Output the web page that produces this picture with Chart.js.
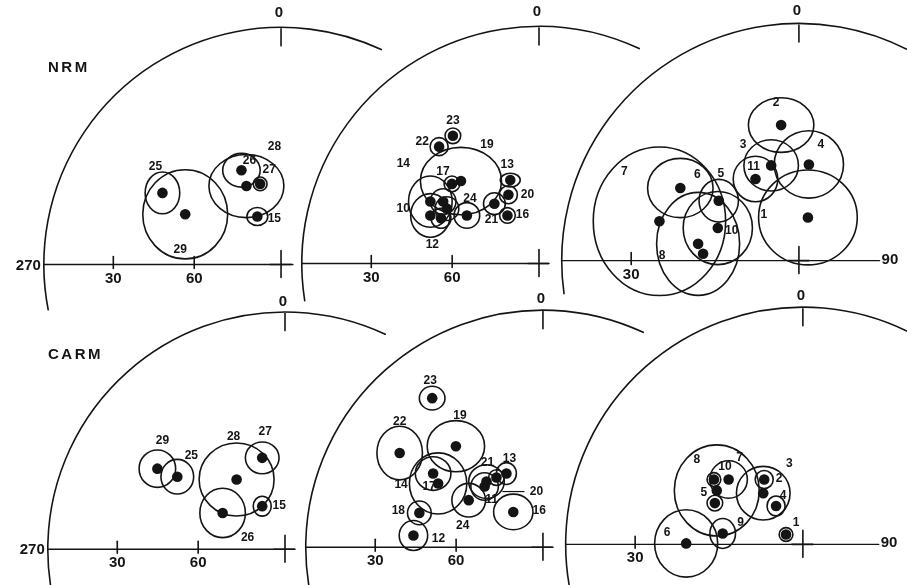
<!DOCTYPE html>
<html>
<head>
<meta charset="utf-8">
<style>html,body{margin:0;padding:0;background:#fff;overflow:hidden}canvas{display:block}</style>
<script src="https://cdn.jsdelivr.net/npm/chart.js@4/dist/chart.umd.min.js"></script>
</head>
<body>
<canvas id="c" width="907" height="585"></canvas>
<script>
// ---- DATA: equal-area projection, units = % of primitive radius (East, North) ----
// NRM, panel A
const nrmA_id    = [25, 29, 28, 26, 27, 15];
const nrmA_east  = [-50.0, -40.4, -14.6, -16.7, -8.8, -10.0];
const nrmA_north = [30.4, 21.3, 33.3, 40.0, 34.2, 20.4];
const nrmA_a95E  = [7.3, 17.9, 15.8, 7.9, 2.9, 4.4];
const nrmA_a95N  = [8.8, 18.8, 13.3, 7.1, 2.9, 3.8];
// NRM, panel B
const nrmB_id    = [23, 22, 19, 17, 14, 10, 11, 12, 18, 24, 21, 13, 20, 16];
const nrmB_east  = [-36.3, -42.1, -32.9, -36.7, -45.8, -40.4, -38.8, -45.8, -41.3, -30.4, -18.8, -12.1, -12.9, -13.3];
const nrmB_north = [54.2, 49.6, 35.0, 33.8, 26.3, 26.3, 23.3, 20.4, 19.2, 20.4, 25.4, 35.4, 29.2, 20.4];
const nrmB_a95E  = [3.3, 3.8, 17.1, 3.3, 9.2, 5.4, 5.0, 8.3, 4.2, 5.4, 4.6, 4.2, 3.8, 3.3];
const nrmB_a95N  = [3.3, 3.8, 14.2, 3.3, 10.8, 5.4, 5.0, 9.2, 4.2, 5.4, 4.6, 2.9, 3.8, 3.3];
// NRM, panel C
const nrmC_id    = [2, 4, 3, 11, 1, 6, 5, 10, 7, 8, 9];
const nrmC_east  = [-7.5, 4.2, -11.7, -18.3, 3.8, -50.0, -33.8, -34.2, -58.8, -42.5, -40.4];
const nrmC_north = [57.5, 40.8, 40.4, 34.6, 18.3, 30.8, 25.4, 13.8, 16.7, 7.1, 2.9];
const nrmC_a95E  = [13.8, 14.6, 11.5, 9.4, 20.8, 13.8, 8.3, 14.6, 27.9, 17.5, null];
const nrmC_a95N  = [11.5, 14.2, 10.8, 9.6, 20.0, 12.5, 9.0, 15.4, 31.3, 21.7, null];
// CARM, panel A
const carmA_id    = [29, 25, 28, 27, 26, 15];
const carmA_east  = [-53.8, -45.4, -20.4, -9.6, -26.3, -9.6];
const carmA_north = [34.2, 30.8, 29.6, 38.8, 15.4, 18.3];
const carmA_a95E  = [7.7, 6.9, 15.8, 7.1, 9.6, 3.8];
const carmA_a95N  = [7.9, 7.3, 15.4, 6.7, 10.4, 4.2];
// CARM, panel B
const carmB_id    = [23, 22, 19, 14, 17, 18, 12, 24, 11, 21, 13, 20, 16];
const carmB_east  = [-46.7, -60.4, -36.7, -44.2, -46.3, -52.1, -54.6, -31.3, -24.6, -23.8, -15.4, -19.6, -12.5];
const carmB_north = [63.3, 40.0, 42.9, 27.1, 31.3, 14.6, 5.0, 20.0, 25.8, 27.9, 31.3, 29.6, 15.0];
const carmB_a95E  = [5.4, 9.6, 12.1, 12.1, 7.5, 5.0, 6.0, 7.1, 5.8, 7.5, 4.2, 3.3, 8.3];
const carmB_a95N  = [5.0, 11.3, 10.8, 12.9, 7.1, 5.0, 6.3, 7.1, 5.8, 7.1, 4.6, 3.3, 7.5];
// CARM, panel C
const carmC_id    = [8, 7, 10, 5, 3, 2, 4, 9, 6, 1];
const carmC_east  = [-36.3, -31.3, -37.5, -37.1, -16.7, -16.3, -11.3, -33.8, -49.2, -7.1];
const carmC_north = [22.9, 27.5, 27.5, 17.5, 21.7, 27.5, 16.3, 4.6, 0.4, 4.2];
const carmC_a95E  = [17.9, 7.9, 2.9, 3.3, 11.3, 3.8, 3.8, 5.4, 13.3, 2.9];
const carmC_a95N  = [19.2, 7.9, 2.9, 3.3, 11.3, 3.8, 4.2, 6.3, 14.2, 2.9];

// tick labels
const inclTicksFull = [30, 60];
const inclTicksShort = [30];
const westLabel = '270';
const eastLabel = '90';
const northLabel = '0';
const rowTitles = ['NRM', 'CARM'];

// ---- LAYOUT (positions / styles only) ----
const W = 907, H = 585, PX_PER_UNIT = 2.4, PRIMITIVE = 100;
const layout = [
  {cx:279, cy:264, arc:[169,295], lineEnd:5,  ticks:inclTicksFull,  west:true,  east:false, nOff:-16,
   off:{25:[-7,-26],29:[-5,35],28:[28,-39],26:[8,-10],27:[9,-14],15:[17,2]}},
  {cx:540, cy:263, arc:[171,295], lineEnd:4,  ticks:inclTicksFull,  west:false, east:false, nOff:-16,
   off:{23:[0,-15],22:[-17,-5],19:[26,-36],17:[-9,-12],14:[-27,-38],10:[-40,7],12:[2,29],24:[3,-17],21:[-3,16],13:[-3,-15],20:[19,0],16:[15,-1]}},
  {cx:803, cy:260, arc:[172,298], lineEnd:34, ticks:inclTicksShort, west:false, east:true, nOff:-14,
   off:{2:[-5,-22],4:[12,-20],3:[-28,-21],11:[-2,-12],1:[-44,-3],6:[17,-13],5:[2,-27],10:[14,3],7:[-35,-50],8:[-36,12]}},
  {cx:283, cy:554, arc:[160,295], lineEnd:4,  ticks:inclTicksFull,  west:true,  east:false, nOff:-12,
   off:{29:[5,-28],25:[14,-21],28:[-3,-43],27:[3,-26],26:[25,25],15:[17,0]}},
  {cx:544, cy:552, arc:[160,295], lineEnd:4,  ticks:inclTicksFull,  west:false, east:false, nOff:-13,
   off:{23:[-2,-17],22:[0,-31],19:[4,-31],14:[-37,1],17:[-4,13],18:[-21,-2],12:[25,3],24:[-6,26],11:[7,13],21:[1,-19],13:[3,-15],20:[40,14],16:[26,-1]},
   leader:{20:[6,14,28,14]}},
  {cx:807, cy:549, arc:[160,300], lineEnd:32, ticks:inclTicksShort, west:false, east:true, nOff:-13,
   off:{8:[-20,-31],7:[11,-22],10:[11,-13],5:[-11,-10],3:[26,-30],2:[15,-1],4:[7,-10],9:[18,-11],6:[-19,-11],1:[10,-12]}}
];
const titlePos = [[48,68],[48,355]];
const INK = '#141414';
const FONT = '"Liberation Sans", Arial, sans-serif';

const panels = [
  {id:nrmA_id, e:nrmA_east, n:nrmA_north, a:nrmA_a95E, b:nrmA_a95N},
  {id:nrmB_id, e:nrmB_east, n:nrmB_north, a:nrmB_a95E, b:nrmB_a95N},
  {id:nrmC_id, e:nrmC_east, n:nrmC_north, a:nrmC_a95E, b:nrmC_a95N},
  {id:carmA_id, e:carmA_east, n:carmA_north, a:carmA_a95E, b:carmA_a95N},
  {id:carmB_id, e:carmB_east, n:carmB_north, a:carmB_a95E, b:carmB_a95N},
  {id:carmC_id, e:carmC_east, n:carmC_north, a:carmC_a95E, b:carmC_a95N}
];

const scales = { x:{display:false}, y:{display:false} };
layout.forEach((L, i) => {
  scales['x'+(i+1)] = {type:'linear', axis:'x', position:'bottom', display:false,
    min:-L.cx/PX_PER_UNIT, max:(W-L.cx)/PX_PER_UNIT};
  scales['y'+(i+1)] = {type:'linear', axis:'y', position:'left', display:false,
    min:(L.cy-H)/PX_PER_UNIT, max:L.cy/PX_PER_UNIT};
});

const datasets = panels.map((p, i) => ({
  type:'scatter',
  data:p.e.map((e, k) => ({x:e, y:p.n[k]})),
  xAxisID:'x'+(i+1), yAxisID:'y'+(i+1),
  pointRadius:5.3, pointHoverRadius:5.3, pointBorderWidth:0,
  backgroundColor:INK, borderColor:INK, clip:false
}));

function equalAreaRadius(incl) {
  return PRIMITIVE * Math.SQRT2 * Math.sin((90 - incl) / 2 * Math.PI / 180);
}

const figurePlugin = {
  id:'figure',
  beforeDraw(chart) {
    const c = chart.ctx; c.save(); c.fillStyle = '#fff'; c.fillRect(0, 0, chart.width, chart.height); c.restore();
  },
  beforeDatasetsDraw(chart) {
    const c = chart.ctx;
    c.save();
    c.strokeStyle = INK; c.fillStyle = INK; c.lineCap = 'round';
    layout.forEach((L, i) => {
      const xs = chart.scales['x'+(i+1)], ys = chart.scales['y'+(i+1)];
      const X = v => xs.getPixelForValue(v), Y = v => ys.getPixelForValue(v);
      const k = Math.abs(X(1) - X(0));
      const ox = X(0), oy = Y(0);
      // primitive circle
      c.lineWidth = 1.6;
      c.beginPath();
      c.arc(ox, oy, PRIMITIVE * k, L.arc[0] * Math.PI / 180, L.arc[1] * Math.PI / 180);
      c.stroke();
      // E-W axis
      c.lineWidth = 1.4;
      c.beginPath(); c.moveTo(X(-PRIMITIVE), oy); c.lineTo(X(L.lineEnd), oy); c.stroke();
      // centre cross
      c.lineWidth = 1.6;
      c.beginPath(); c.moveTo(ox, oy - 14); c.lineTo(ox, oy + 13);
      c.moveTo(ox - 11, oy); c.lineTo(ox + 10, oy); c.stroke();
      // north tick
      const ny = Y(PRIMITIVE);
      c.beginPath(); c.moveTo(ox, ny); c.lineTo(ox, ny + 17); c.stroke();
      // inclination ticks
      c.font = 'bold 15px ' + FONT; c.textAlign = 'center'; c.textBaseline = 'middle';
      L.ticks.forEach(t => {
        const tx = X(-equalAreaRadius(t));
        c.beginPath(); c.moveTo(tx, oy - 8); c.lineTo(tx, oy + 4); c.stroke();
        c.fillText(String(t), tx, oy + 14);
      });
      c.fillText(northLabel, ox - 2, ny + L.nOff);
      if (L.west) { c.textAlign = 'right'; c.fillText(westLabel, X(-PRIMITIVE) - 3, oy + 1); }
      if (L.east) { c.textAlign = 'left'; c.fillText(eastLabel, X(L.lineEnd) + 2, oy - 1); }
      // alpha-95 cones
      const p = panels[i];
      c.lineWidth = 1.6;
      p.e.forEach((e, j) => {
        if (p.a[j] == null) return;
        c.beginPath();
        c.ellipse(X(e), Y(p.n[j]), p.a[j] * k, p.b[j] * k, 0, 0, Math.PI * 2);
        c.stroke();
      });
    });
    c.restore();
  },
  afterDatasetsDraw(chart) {
    const c = chart.ctx;
    c.save();
    c.fillStyle = INK; c.strokeStyle = INK;
    c.textAlign = 'center'; c.textBaseline = 'middle';
    layout.forEach((L, i) => {
      const xs = chart.scales['x'+(i+1)], ys = chart.scales['y'+(i+1)];
      const p = panels[i];
      c.font = 'bold 12px ' + FONT;
      p.id.forEach((id, j) => {
        const o = L.off[id];
        if (!o) return;
        const px = xs.getPixelForValue(p.e[j]), py = ys.getPixelForValue(p.n[j]);
        c.fillText(String(id), px + o[0], py + o[1]);
        if (L.leader && L.leader[id]) {
          const d = L.leader[id];
          c.lineWidth = 1.2;
          c.beginPath(); c.moveTo(px + d[0], py + d[1]); c.lineTo(px + d[2], py + d[3]); c.stroke();
        }
      });
    });
    c.font = 'bold 15px ' + FONT; c.textAlign = 'left';
    if ('letterSpacing' in c) c.letterSpacing = '2.5px';
    rowTitles.forEach((t, r) => c.fillText(t, titlePos[r][0], titlePos[r][1]));
    c.restore();
  }
};

new Chart(document.getElementById('c'), {
  type:'scatter',
  data:{datasets},
  options:{
    responsive:false, animation:false, devicePixelRatio:1,
    layout:{padding:0},
    events:[],
    plugins:{legend:{display:false}, tooltip:{enabled:false}, title:{display:false}},
    scales
  },
  plugins:[figurePlugin]
});
</script>
</body>
</html>
